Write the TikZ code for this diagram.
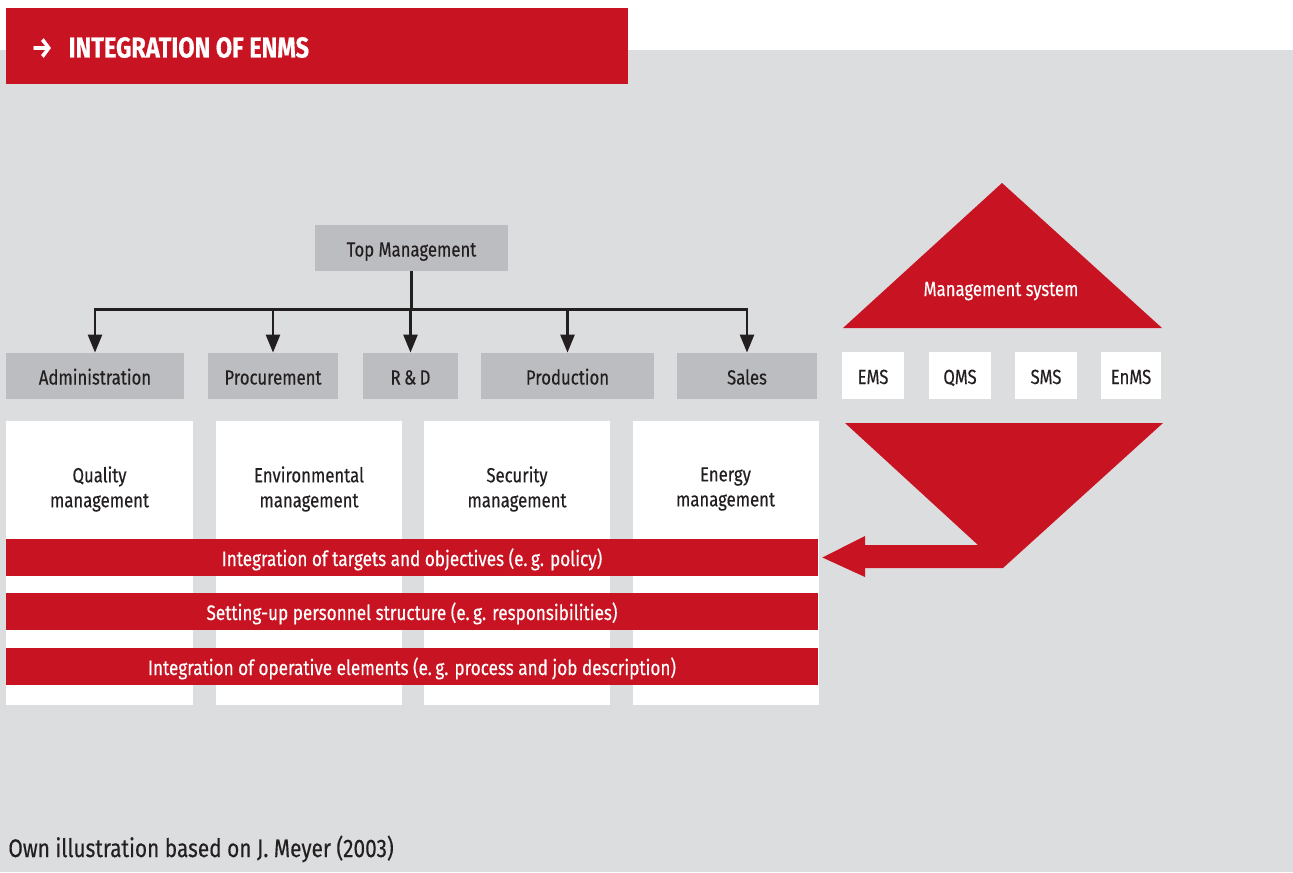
\documentclass[tikz,border=0pt]{standalone}
\usepackage{fontspec}
\setmainfont{Fira Sans}[FakeStretch=0.82, FakeBold=0.35]
\usepackage{tikz}
\usetikzlibrary{arrows.meta}
\definecolor{enmsred}{RGB}{200,20,34}
\definecolor{bggray}{RGB}{220,221,223}
\definecolor{boxgray}{RGB}{188,189,192}
\definecolor{txtdark}{RGB}{35,31,32}

\begin{document}
\begin{tikzpicture}[x=0.5pt, y=-0.5pt,
	every node/.style={font=\fontsize{10.2}{12.5}\selectfont, text=txtdark, inner sep=0pt},
	deptbox/.style={fill=boxgray, minimum height=23pt, text height=8.5pt, text depth=0pt},
	colbox/.style={fill=white, minimum width=93pt, minimum height=142pt},
	coltext/.style={align=center},
	redbar/.style={fill=enmsred, text=white, font=\fontsize{10.45}{12.5}\selectfont, minimum width=406pt, minimum height=18.5pt, text height=8.5pt, text depth=0pt},
	msbox/.style={fill=white, minimum width=31pt, minimum height=23.5pt, text height=8.5pt, text depth=0pt},
	conn/.style={draw=txtdark, line width=1.3pt}]
			
			\useasboundingbox (0,0) rectangle (1293,872);
			\fill[bggray] (0,50) rectangle (1293,872);
			\fill[enmsred] (6,8) rectangle (628,84);
			\node[anchor=base west, text=white, font=\fontsize{14.4}{16}\selectfont\bfseries] (title) at (31,57.5) {→\hspace{8pt}INTEGRATION OF ENMS};
			
			\node[deptbox, minimum width=96.5pt] (top) at (411.5,248) {Top Management};
			\node[deptbox, minimum width=89pt] (adm) at (95,376) {Administration};
			\node[deptbox, minimum width=65pt] (proc) at (273,376) {Procurement};
			\node[deptbox, minimum width=47.5pt] (rd) at (410.5,376) {R\,\&\,D};
			\node[deptbox, minimum width=86.5pt] (prod) at (567.5,376) {Production};
			\node[deptbox, minimum width=70pt] (sales) at (747,376) {Sales};
			
			\path (top.south) ++(0,38) coordinate (fork);
			\draw[conn] (top.south) -- (fork);
			\draw[conn, line cap=rect] (fork -| adm) -- (fork -| sales);
			\foreach \d in {adm,proc,rd,prod,sales}
				\draw[conn, -{Triangle[length=9pt, width=7pt]}] (fork -| \d) -- (\d.north);
			
			\node[colbox, minimum width=93.5pt] (qual) at (99.5,563) {};
			\node[colbox] (env) at (309,563) {};
			\node[colbox] (sec) at (517,563) {};
			\node[colbox] (ener) at (725.5,563) {};
			\node[coltext] (qualtxt) at (99.5,489) {Quality\\management};
			\node[coltext] (envtxt) at (309,489) {Environmental\\management};
			\node[coltext] (sectxt) at (517,489) {Security\\management};
			\node[coltext] (enertxt) at (725.5,489) {Energy\\management};
			
			\node[redbar] (targets) at (412,557.5) {Integration of targets and objectives (e.\,g. policy)};
			\node[redbar] (staff) at (412,611.5) {Setting-up personnel structure (e.\,g. responsibilities)};
			\node[redbar] (operative) at (412,666.5) {Integration of operative elements (e.\,g. process and job description)};
			
			\fill[enmsred] (843,328) -- (1002,183) -- (1162,328) -- cycle;
			\node[anchor=base, text=white] (mgmt) at (1001,296) {Management system};
			\node[msbox] (ems) at (873,375.5) {EMS};
			\node[msbox] (qms) at (960,375.5) {QMS};
			\node[msbox] (sms) at (1046,375.5) {SMS};
			\node[msbox, minimum width=30pt] (enms) at (1131,375.5) {EnMS};
			\fill[enmsred] (845,423) -- (1163,423) -- (1003,568) -- (865,568) -- (865,577) -- ([xshift=2pt]targets.east) -- (865,536) -- (865,545) -- (978,545) -- cycle;
			
			\node[anchor=base west, font=\fontsize{12.7}{15}\selectfont] (source) at (8,857) {Own illustration based on J. Meyer (2003)};
			
		\end{tikzpicture}
\end{document}
